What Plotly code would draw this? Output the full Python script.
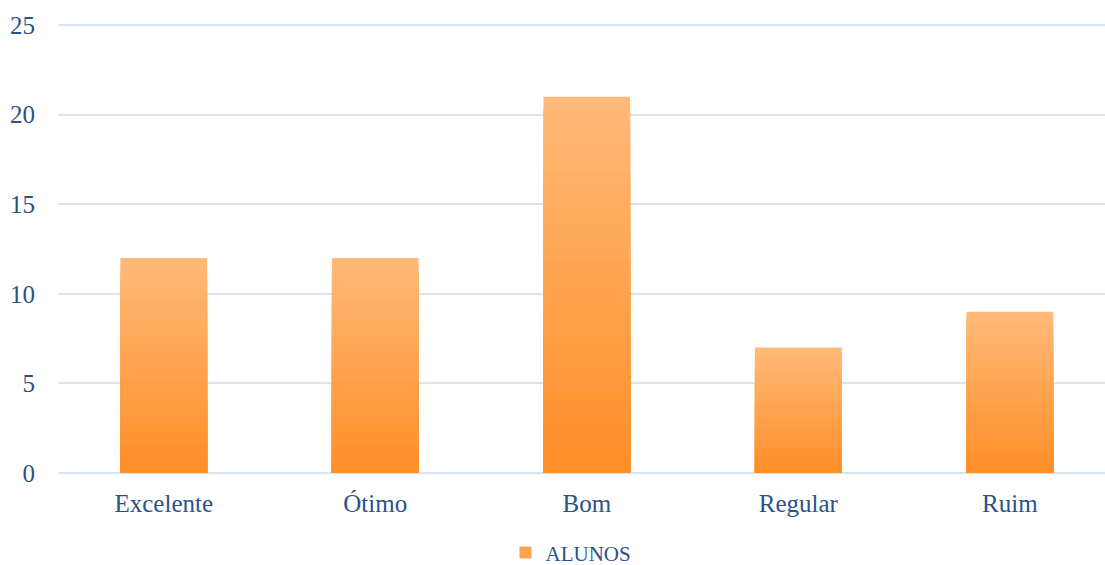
import plotly.graph_objects as go

categories = ["Excelente", "Ótimo", "Bom", "Regular", "Ruim"]
alunos = [12, 12, 21, 7, 9]
series_name = "ALUNOS"
y_ticks = [0, 5, 10, 15, 20, 25]

TOP = (255, 185, 120)
BOT = (255, 143, 40)
N = 30
TEXT = "#2B5288"
FONT = "Liberation Serif"

def mix(t):
    r = [round(TOP[i] + (BOT[i] - TOP[i]) * t) for i in range(3)]
    return f"rgb({r[0]},{r[1]},{r[2]})"

fig = go.Figure()
for k in range(N):
    frac = (N - k) / N
    fig.add_trace(go.Bar(
        x=categories,
        y=[v * frac for v in alunos],
        marker=dict(color=mix(k / (N - 1)), line=dict(width=0)),
        width=0.41,
        name=series_name,
        showlegend=(k == N // 2),
        hoverinfo="skip",
    ))

fig.update_layout(
    width=1105, height=565,
    barmode="overlay",
    plot_bgcolor="white", paper_bgcolor="white",
    margin=dict(l=58, r=0, t=20, b=92, autoexpand=False),
    font=dict(family=FONT, size=25, color=TEXT),
    legend=dict(orientation="h", x=0.49, xanchor="center", y=-0.176, yanchor="middle",
                font=dict(size=21, color=TEXT), itemwidth=30),
    xaxis=dict(range=[-0.5, 4.45], showgrid=False, zeroline=False, showline=False,
               ticks="", ticklabelstandoff=13, tickfont=dict(size=25, color=TEXT)),
    yaxis=dict(range=[0, 25.28], tickvals=y_ticks, showgrid=True, gridcolor="#DAE3F1", gridwidth=2,
               zeroline=True, zerolinecolor="#DAE3F1", zerolinewidth=2, showline=False,
               ticks="", ticklabelstandoff=22, tickfont=dict(size=25, color=TEXT)),
)

fig.write_html("out.html", config={"displayModeBar": False},
               post_script="document.body.style.margin='0';")
